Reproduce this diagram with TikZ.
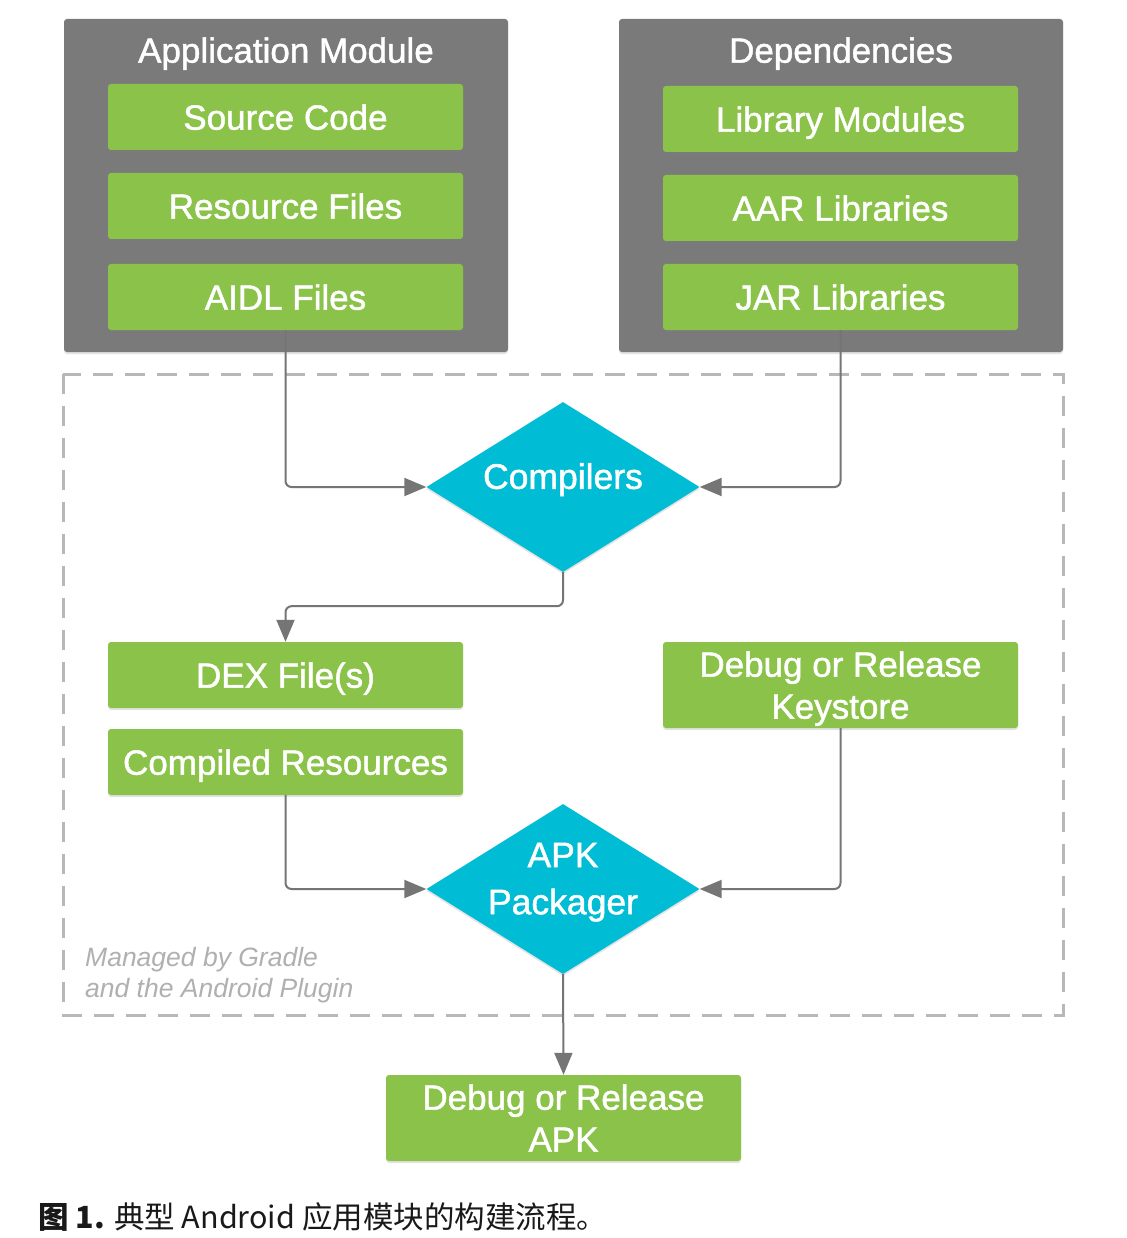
\documentclass[tikz,border=0pt]{standalone}
\usepackage{fontspec}
\setmainfont{Liberation Sans}
\newfontfamily\medfont{Liberation Sans}[FakeBold=1.3]
\newfontfamily\cjk{Noto Sans CJK SC}
\usetikzlibrary{shapes.geometric,arrows.meta,shadows}
\definecolor{boxgray}{HTML}{7A7A7A}
\definecolor{leaf}{HTML}{8BC34A}
\definecolor{cyanbox}{HTML}{00BCD4}
\definecolor{conngray}{HTML}{757575}
\definecolor{dashgray}{HTML}{B8B8B8}
\definecolor{notegray}{HTML}{B0B0B0}
\begin{document}
\begin{tikzpicture}[x=1pt,y=-1pt,
  softshadow/.style={drop shadow={opacity=0.22,shadow xshift=0pt,shadow yshift=-2pt}},
  graybox/.style={fill=boxgray,rounded corners=3pt,minimum width=444pt,minimum height=333pt,inner sep=0pt,softshadow},
  titletext/.style={text=white,font=\medfont\fontsize{35}{40}\selectfont,inner sep=0pt,text depth=0pt},
  leafbox/.style={fill=leaf,rounded corners=3pt,minimum width=355pt,minimum height=66pt,inner sep=0pt,text=white,align=center,font=\medfont\fontsize{35}{42}\selectfont,text depth=0pt,softshadow},
  decide/.style={diamond,fill=cyanbox,minimum width=273pt,minimum height=170pt,inner sep=0pt,aspect=1.6,softshadow},
  decidetext/.style={text=white,align=center,font=\medfont\fontsize{35.5}{47}\selectfont,inner sep=0pt,text depth=0pt},
  conn/.style={draw=conngray,line width=2pt,rounded corners=6pt,-{Triangle[length=22pt,width=18pt]}},
  dashbox/.style={draw=dashgray,line width=3pt,dash pattern=on 20pt off 12pt}]
\useasboundingbox (0,0) rectangle (1126,1238);
\fill[white] (0,0) rectangle (1126,1238);

% managed region
\draw[dashbox] (63,374) rectangle (1063,1015);
\node[anchor=north west,inner sep=0pt,align=left,text=notegray,font=\fontsize{26.5}{31}\selectfont\itshape] (note) at (85,947.5) {Managed by Gradle\\and the Android Plugin};

% application module
\node[graybox] (app) at (286,185.5) {};
\node[titletext] (apptitle) at (286,50) {Application Module};
\node[leafbox] (src) at (285.5,117) {Source Code};
\node[leafbox] (res) at (285.5,206) {Resource Files};
\node[leafbox] (aidl) at (285.5,297) {AIDL Files};

% dependencies
\node[graybox] (dep) at (841,185.5) {};
\node[titletext] (deptitle) at (841,50) {Dependencies};
\node[leafbox] (lib) at (840.5,119) {Library Modules};
\node[leafbox] (aar) at (840.5,208) {AAR Libraries};
\node[leafbox] (jar) at (840.5,297) {JAR Libraries};

% compilers
\node[decide] (comp) at (563,487) {};
\node[decidetext] (comptext) at (563,476) {Compilers};

% outputs
\node[leafbox] (dex) at (285.5,675) {DEX File(s)};
\node[leafbox] (cres) at (285.5,762) {Compiled Resources};
\node[leafbox,minimum height=86pt] (key) at (840.5,685) {Debug or Release\\Keystore};

% packager
\node[decide] (pkg) at (563,889) {};
\node[decidetext] (pkgtext) at (563,878.5) {APK\\Packager};

% final
\node[leafbox,minimum height=86pt] (apk) at (563.5,1118) {Debug or Release\\APK};

% connectors
\draw[conn] (aidl.south) |- (comp.west);
\draw[conn] (jar.south) |- (comp.east);
\draw[conn] (comp.south) -- ++(0,34) -| (dex.north);
\draw[conn] (cres.south) |- (pkg.west);
\draw[conn] (key.south) |- (pkg.east);
\draw[conn] (pkg.south) -- (apk.north);

% caption
\node[anchor=base west,inner sep=0pt,text=black!90,font=\cjk\fontsize{30.5}{36}\selectfont] (caption) at (38,1228) {\textbf{图 1.} 典型 Android 应用模块的构建流程。};
\end{tikzpicture}
\end{document}
